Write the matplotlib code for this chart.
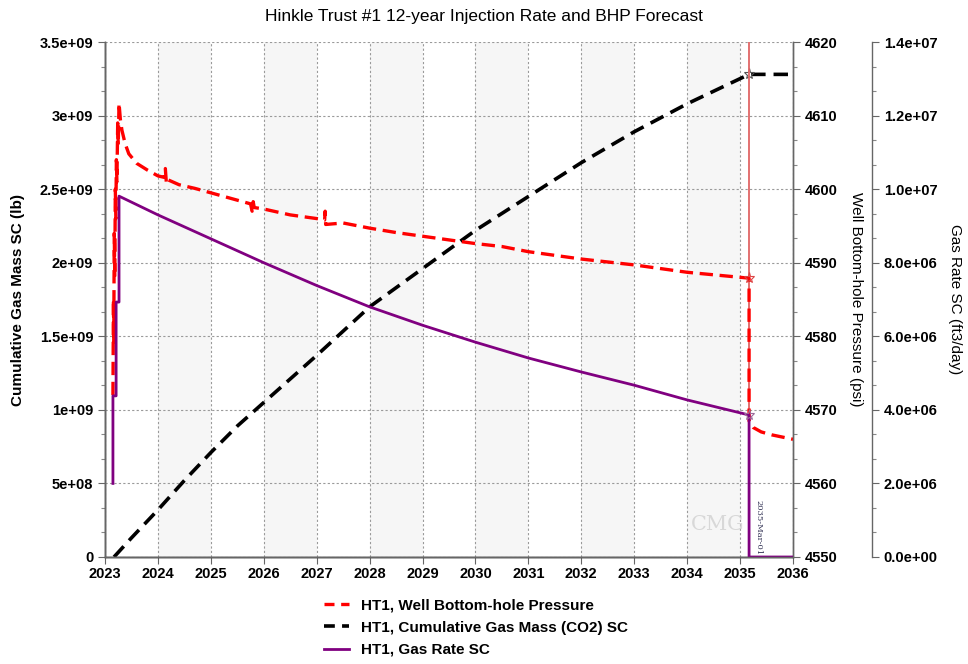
import matplotlib
matplotlib.use('Agg')
import matplotlib.pyplot as plt
import numpy as np
from matplotlib.ticker import MultipleLocator, AutoMinorLocator, FuncFormatter
from matplotlib.lines import Line2D

plt.rcParams['font.family'] = ['Liberation Sans', 'DejaVu Sans']

# ---------------- data ----------------
yr_years = list(range(2023, 2037))

# cumulative gas mass (lb)
cum_t = [2023.17, 2023.5, 2024.0, 2024.5, 2025.0, 2025.5, 2026.0, 2027.0, 2028.0,
         2029.0, 2030.0, 2031.0, 2032.0, 2033.0, 2034.0, 2035.17, 2036.0]
cum_v = [0.0, 0.13e9, 0.32e9, 0.52e9, 0.71e9, 0.89e9, 1.05e9, 1.37e9, 1.70e9,
         1.96e9, 2.22e9, 2.45e9, 2.68e9, 2.89e9, 3.08e9, 3.28e9, 3.28e9]

# well bottom-hole pressure (psi)
bhp_t = [2023.150, 2023.160, 2023.165, 2023.175, 2023.185, 2023.195, 2023.205, 2023.215,
         2023.225, 2023.240, 2023.250, 2023.265, 2023.29, 2023.32, 2023.38, 2023.45,
         2023.6, 2023.8, 2024.0, 2024.12, 2024.14, 2024.16, 2024.18, 2024.4, 2024.7,
         2025.0, 2025.4, 2025.75, 2025.78, 2025.80, 2025.82, 2026.0, 2026.5, 2027.0,
         2027.15, 2027.16, 2027.17, 2027.5, 2028.0, 2028.5, 2029.0, 2029.5, 2030.0,
         2030.5, 2031.0, 2032.0, 2033.0, 2034.0, 2035.17, 2035.17, 2035.25, 2035.4,
         2035.6, 2036.0]
bhp_v = [4572.0, 4585.0, 4579.0, 4594.0, 4588.0, 4600.0, 4596.0, 4604.0,
         4601.0, 4609.0, 4606.0, 4611.7, 4609.5, 4608.0, 4606.2, 4604.8,
         4603.5, 4602.6, 4601.8, 4601.6, 4602.8, 4600.8, 4601.3, 4600.6, 4600.1,
         4599.5, 4598.7, 4598.0, 4597.0, 4598.3, 4597.5, 4597.3, 4596.5, 4596.0,
         4595.8, 4597.0, 4595.2, 4595.4, 4594.7, 4594.1, 4593.6, 4593.1, 4592.6,
         4592.2, 4591.5, 4590.5, 4589.7, 4588.7, 4587.9, 4568.5, 4567.6, 4567.0,
         4566.6, 4566.0]

# gas rate (ft3/day)
rate_t = [2023.15, 2023.15, 2023.21, 2023.21, 2023.265, 2023.265, 2024.0, 2025.0,
          2026.0, 2027.0, 2028.0, 2029.0, 2030.0, 2031.0, 2032.0, 2033.0, 2034.0,
          2035.17, 2035.17, 2036.0]
rate_v = [2.0e6, 4.38e6, 4.38e6, 6.93e6, 6.93e6, 9.81e6, 9.30e6, 8.65e6,
          8.00e6, 7.38e6, 6.80e6, 6.30e6, 5.84e6, 5.41e6, 5.03e6, 4.67e6, 4.27e6,
          3.86e6, 0.0, 0.0]

end_date = 2035.17
legend_labels = ['HT1, Well Bottom-hole Pressure',
                 'HT1, Cumulative Gas Mass (CO2) SC',
                 'HT1, Gas Rate SC']

# ---------------- figure ----------------
fig = plt.figure(figsize=(9.68, 6.64), dpi=100, facecolor='w')
ax = fig.add_axes([105/968, 1-557/664, (793-105)/968, (557-42)/664])
ax2 = ax.twinx()
ax3 = ax.twinx()
ax3.spines['right'].set_position(('axes', (872-105)/(793-105)))

# alternating shaded year bands
for y0 in range(2024, 2036, 2):
    ax.axvspan(y0, y0 + 1, color='#f6f6f6', zorder=0, lw=0)

ax.grid(True, which='major', color='#9a9a9a', linestyle=(0, (2, 2)), linewidth=0.8)
ax.set_axisbelow(True)

l_cum, = ax.plot(cum_t, cum_v, color='black', lw=2.6, dashes=(4, 2.2),
                 marker='*', markevery=[15], ms=8, mfc='none', mec='#555555', mew=0.8)
l_bhp, = ax2.plot(bhp_t, bhp_v, color='red', lw=2.4, dashes=(4, 2),
                  marker='*', markevery=[48], ms=8, mfc='none', mec='#dd4444', mew=0.8)
l_rate, = ax3.plot(rate_t, rate_v, color='#800080', lw=2.0,
                   marker='*', markevery=[17], ms=8, mfc='none', mec='#9a6a9a', mew=0.8)

ax.axvline(end_date, color='#e06666', lw=1.3, zorder=5)
ax.text(end_date + 0.1, 2.0e8, '2035-Mar-01', rotation=270, fontsize=6,
        ha='left', va='center', color='#333355', family='DejaVu Serif')
ax.text(end_date - 0.6, 2.2e8, 'CMG', fontsize=15, color='#cccccc', alpha=0.7,
        ha='center', va='center', family='DejaVu Serif', zorder=1)

# axes limits / ticks
ax.set_xlim(2023, 2036)
ax.set_ylim(0, 3.5e9)
ax2.set_ylim(4550, 4620)
ax3.set_ylim(0, 1.4e7)

ax.set_xticks(yr_years)
ax.set_xticklabels([str(y) for y in yr_years])
ax.yaxis.set_major_locator(MultipleLocator(5e8))
ax.yaxis.set_major_formatter(FuncFormatter(lambda v, p: '%g' % v))
ax.yaxis.set_minor_locator(AutoMinorLocator(3))
ax2.yaxis.set_major_locator(MultipleLocator(10))
ax2.yaxis.set_minor_locator(AutoMinorLocator(3))
ax3.yaxis.set_major_locator(MultipleLocator(2e6))
ax3.yaxis.set_major_formatter(FuncFormatter(lambda v, p: '%.1e' % v))
ax3.yaxis.set_minor_locator(AutoMinorLocator(3))

for a in (ax, ax2, ax3):
    a.tick_params(which='major', direction='out', length=5, width=0.8, labelsize=10.5, color='#666666')
    a.tick_params(which='minor', direction='out', length=3, width=0.8, color='#888888')
    for lab in a.get_xticklabels() + a.get_yticklabels():
        lab.set_fontweight('bold')
    for s in a.spines.values():
        s.set_color('#666666')
        s.set_linewidth(1.0)
ax.spines['top'].set_visible(False)
ax2.spines['top'].set_visible(False)
ax3.spines['top'].set_visible(False)
ax.spines['bottom'].set_color('#333333')
ax.tick_params(axis='x', pad=2)

ax.set_ylabel('Cumulative Gas Mass SC (lb)', fontsize=11, fontweight='bold', va='center')
ax.yaxis.set_label_coords((18-105)/688, 0.5)
ax2.set_ylabel('Well Bottom-hole Pressure (psi)', fontsize=11, rotation=270, va='center')
ax2.yaxis.set_label_coords((856-105)/688, 0.5)
ax3.set_ylabel('Gas Rate SC (ft3/day)', fontsize=11, rotation=270, va='center')
ax3.yaxis.set_label_coords((955-105)/688, 0.5)

fig.text(0.5, 1-16/664, 'Hinkle Trust #1 12-year Injection Rate and BHP Forecast',
         ha='center', va='center', fontsize=12.5,
         family=['Liberation Sans Narrow', 'Liberation Sans'])

handles = [Line2D([], [], color='red', lw=2.4, dashes=(3, 2)),
           Line2D([], [], color='black', lw=2.6, dashes=(3, 2)),
           Line2D([], [], color='#800080', lw=2.0)]
fig.legend(handles, legend_labels, loc='upper left', bbox_to_anchor=(318/968, 1-592/664),
           frameon=False, prop={'weight': 'bold', 'size': 11}, handlelength=1.6,
           handletextpad=0.8, labelspacing=0.55, borderaxespad=0)

fig.savefig('out.png', dpi=100)
